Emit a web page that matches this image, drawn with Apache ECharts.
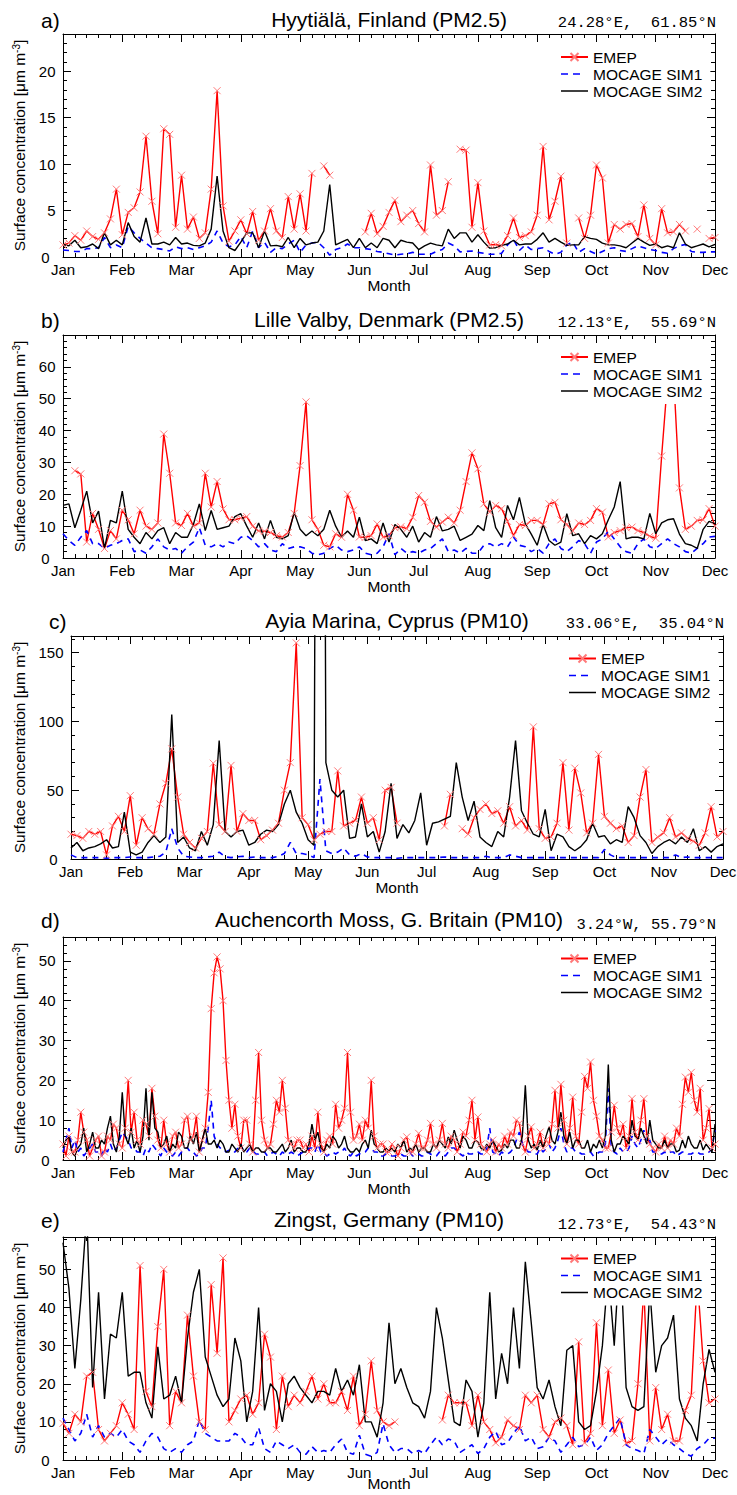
<!DOCTYPE html>
<html>
<head>
<meta charset="utf-8">
<script src="https://cdn.jsdelivr.net/npm/echarts@6/dist/echarts.min.js"></script>
<style>
html,body{margin:0;padding:0;background:#fff;}
#chart{width:737px;height:1495px;}
</style>
</head>
<body>
<div id="chart"></div>
<script>
// ---------------- DATA ----------------
const MONTHS = ['Jan','Feb','Mar','Apr','May','Jun','Jul','Aug','Sep','Oct','Nov','Dec'];
const STEPS = [0.1, 0.1, 0.1, 0.05, 0.1]; // month units between samples, per panel

const TAGS = ['a)','b)','c)','d)','e)'];
const TITLES = ['Hyytiälä, Finland (PM2.5)','Lille Valby, Denmark (PM2.5)','Ayia Marina, Cyprus (PM10)','Auchencorth Moss, G. Britain (PM10)','Zingst, Germany (PM10)'];
const COORDS = ['24.28°E,  61.85°N','12.13°E,  55.69°N','33.06°E,  35.04°N','3.24°W, 55.79°N','12.73°E,  54.43°N'];
const Y_MAX = [24, 70, 162, 56, 58.5];
const Y_INTERVAL = [5, 10, 50, 10, 10];
const SERIES_NAMES = ['EMEP','MOCAGE SIM1','MOCAGE SIM2'];

const A_EMEP = [1.3,1.5,2.3,1.8,2.8,2.2,1.9,2.6,4.1,7.3,
 2.4,4.8,5.3,7.0,13.0,6.0,2.5,13.8,13.2,3.2,
 8.8,3.0,4.3,2.0,2.6,7.3,17.9,5.5,1.7,2.8,
 4.0,2.5,4.9,1.8,2.8,5.2,2.8,2.1,6.5,3.0,
 6.8,2.8,9.0,null,9.8,8.8,null,null,null,null,
 null,2.7,4.7,2.5,3.3,4.8,6.1,3.8,4.5,5.0,
 3.6,2.7,9.9,4.5,5.0,8.1,null,11.6,11.5,3.2,
 8.0,2.8,1.3,1.35,1.2,2.3,4.2,2.1,2.3,2.7,
 4.5,11.9,4.0,6.0,8.7,1.5,null,4.2,2.0,4.5,
 9.9,8.5,1.5,3.5,3.0,3.5,3.6,2.2,5.6,2.0,
 1.3,5.2,2.6,2.7,3.5,2.8,null,3.0,null,2.0,
 2.1];
const A_SIM1 = [0.75,0.7,0.6,0.6,0.9,0.9,1.0,2.1,1.0,1.3,
 1.0,3.3,2.6,2.0,1.5,1.0,0.9,0.8,0.65,1.1,
 0.9,1.0,0.8,1.0,1.2,1.6,2.8,1.5,1.1,1.3,
 2.2,1.0,2.8,1.0,1.6,0.5,1.0,0.9,1.4,1.8,
 0.5,1.3,1.5,1.6,1.0,0.2,0.8,1.0,1.4,1.0,
 1.0,0.9,0.8,0.6,0.5,0.35,0.2,0.3,0.35,0.5,
 0.3,0.3,0.3,0.6,0.8,1.5,1.2,0.55,0.6,0.65,
 0.5,0.4,0.3,0.3,0.4,1.3,1.9,0.7,1.3,0.8,
 0.9,1.0,0.6,0.3,0.5,1.3,1.6,0.5,0.9,0.6,
 0.3,0.6,0.9,1.0,0.7,0.6,0.9,1.2,1.0,0.8,
 0.7,0.5,0.4,0.9,1.2,1.35,0.6,0.5,0.5,0.55,
 0.55];
const A_SIM2 = [1.35,1.2,1.8,1.0,1.1,1.4,0.9,2.6,1.3,1.8,
 1.3,3.7,2.2,1.6,4.2,1.4,1.4,1.6,1.3,2.1,
 1.4,1.5,1.25,1.2,1.5,3.0,8.7,2.8,1.0,0.7,
 1.6,2.6,2.6,1.0,2.8,1.2,1.25,1.1,2.1,1.0,
 2.0,1.3,1.5,1.6,2.8,7.8,1.3,1.6,1.9,1.0,
 2.0,1.0,1.5,1.0,2.0,1.8,1.0,1.8,1.6,1.5,
 0.8,1.2,1.5,1.3,1.2,3.0,2.0,2.6,2.6,1.6,
 2.4,1.6,0.95,1.0,1.25,1.4,1.8,1.3,1.4,1.4,
 1.9,2.6,1.6,2.0,1.6,1.25,1.3,1.3,2.2,2.0,
 1.9,1.5,1.3,1.3,1.2,1.0,1.5,2.0,1.6,1.25,
 1.4,1.0,1.2,1.0,2.6,1.4,1.0,1.2,1.4,1.1,
 1.35];

const B_EMEP = [null,null,27.4,26.4,5,14,9,3,8.6,6,
 15,12,7.6,15,10,9,11,38.9,26.6,11,
 10.2,14,10,11,26.6,16,24,15.4,12,12,
 12.5,13,10,8.5,8.4,8,7,6.6,8,14,
 29,49,12,9,4,3.5,7.6,6.5,20,15,
 6.6,6.5,7,10.7,6.5,7,9.5,9.8,9.2,12.8,
 19.6,17.5,11.5,9.7,11.3,12.8,11,15,24,33,
 28,17,14.4,16.5,15.5,11.5,7,10.5,10.2,11.8,
 11.8,10.5,17,17.5,12,10.5,8.5,11,10.5,11.8,
 15.5,14.4,6.6,8,8.6,9.5,9.7,8.6,8,6.8,
 6.2,32,56,58,22,9,10,11.8,12,15.5,
 10];
const B_SIM1 = [7.6,5.5,4.0,6.5,8.6,4.5,4.5,3,4,4.5,
 5.5,6,2,2.5,1.5,3.5,6,3.5,2.5,3,
 1.5,3.5,5,9.5,4,3.5,4.5,3.5,5,4.5,
 6.5,7,5.5,3.5,4.5,2.5,2,4.5,3,3.5,
 3.5,3,1.5,1,1.5,3,4,2.5,2,2.5,
 3.5,1.5,1,1.5,3.5,7.6,1,3,1.5,2,
 1.5,2.5,3,4.5,6,2,2.5,1.5,3,1.5,
 1.5,4,4.5,3.5,4.5,3.5,6.6,4,3.5,2,
 3,1.5,4.5,6,3,2,3.5,5.5,4.5,1.5,
 5,6,8.4,6,3.5,2,1.5,4.5,6,3.5,
 3,4.5,6,4.5,3.5,2,1.5,3,4.5,6.6,
 6.8];
const B_SIM2 = [16.5,17,9.5,15,21,11,14.7,3,11.8,11,
 21,9,6.5,4.5,8,6,8.6,9.5,4.5,8,
 6.5,6.5,10.5,17,8.6,14.9,9,9.5,10,13,
 13.9,10,6.5,11,6,11.8,6.5,6,7,14.4,
 9,7,8.5,7,9,15,10,6.5,8.5,6.5,
 12.8,5.5,6,4.5,11,5,10.5,9,6.5,10,
 5,8,6.5,13,8.5,9,10,5.5,6.5,7.5,
 10.2,8.6,18,9.5,6.5,16.5,12,19,10.7,7.5,
 4,10.5,5.5,4,5,13.9,7,7.6,4.5,7,
 6,7.6,12,16,24,6,6.5,6.5,6,14,
 7.6,11,12,12.3,7.5,4.5,4,3,9,11.5,
 10.7];

const C_EMEP = [18,17,15,20,18,20,3,24,31,20,
 46,10,30,22,18,40,55,80,45,18,
 12,8,15,20,69.6,25,20,68,20,33,
 28,28,14,17,21,26,50,70,157,30,
 25,14,18,20,20,64,24,26,28,45,
 26,30,14,50,52,26,null,null,null,null,
 null,null,null,24,47,null,22,18,30,36,
 40,33,35,26,38,24,28,21,96,22,
 15,16,26,70,21,66,48,19,26,76,
 31,26,22,24,12,17,45,65,12,16,
 19,30,16,19,15,13,10,19,38,16,
 20];
const C_SIM1 = [3,1,1,1,1,1,0.5,1,1,1,
 1.5,1,1,1,1.5,2,5,22,8,2,
 1.5,1,1,1.5,2,5,1.5,1,1.5,2,
 1,1.5,1,1,1,2,4,12,4,4,
 3,1,58,6,4,5,8,3,2,4,
 1.5,1,1,1,1,0.5,1,1,1,1,
 1,1,1,1.5,1,1,1,1,1,1,
 2,1,1,1,3,2,1,1,1,1,
 1,1,1,1,1,1,1,1,1,1,
 7,3,1,1,1,1,1,1,1,1,
 1,1,3,1,1.5,1,1,1,1,1,
 1];
const C_SIM2 = [8,12,6,8,9,11,14,8,9,34,
 5,3,5,12,17,12,16,105,12,16,
 8,6,20,10,25,86,20,16,20,21,
 10,12,18,21,20,25,40,50,34,26,
 14,10,1200,70,50,45,50,15,16,40,
 16,20,5,20,55,15,25,19,28,48,
 10,26,27,29,31,70,45,28,42,16,
 12,9,20,16,45,86,35,26,18,16,
 36,6,18,16,9,6,9,14,26,16,
 17,11,14,12,38,30,17,12,4,9,
 12,14,11,16,12,22,6,9,5,9,
 11];

// panel d: sampled every 0.05 month
const D_EMEP = [4,1,6,2,2,5,12,7,5,1,
 3,5,6,1,2,6,5,9,8,4,
 3,8,20,7,12,5,4,10,9,6,
 18,11,5,3,10,4,2,6,7,3,
 4,10,11,5,6,11,2,5,8,17,
 38,47,51,48,40,25,15,8,14,6,
 3,10,10,4,2,15,27,10,5,3,
 4,9,15,12,20,13,5,4,3,5,
 5,3,4,2,6,3,12,4,2,5,
 6,4,14,8,10,13,27,12,5,6,
 9,5,10,8,20,6,3,4,4,2,
 2,4,3,1,3,5,5.8,2,2,4,
 6.7,3,3,5,9.2,4,3,5,9.2,4,
 3,6,5,2,4,7,6,10,15,5,
 10.8,4,3,2,4,5,2,4,3,6,
 4,7,6,10,9.2,4,2,6,8.3,3,
 4,7,3,5,4,9,17.5,8,19,10,
 4,8,15.8,6,4,12,21,18,24.6,15,
 11,6,5,3,3,7,13.75,8,6,9,
 3,6,15.4,7,5,10,15.4,6,4,3,
 2,4,3,6,3,5,4,8,6,14,
 20.8,17,22,15,12,18,5,8,12.9,3,
 4];
const D_SIM1 = [2,5,8,3,5,2,3,1,2,3,
 4,2,2,1,3,2,4,2,3,5,
 7,6,5,3,3,2,2,1,3,2,
 4,3,2,1,3,2,1.5,1,2,1,
 2,3,3,2,2,1,1.5,3,3,8,
 15,6,4,3,3,2,2.5,2,2,3,
 4,2,2,3,2.5,1.5,1.5,2,2,1,
 1.5,2,1.5,1,2,1.5,1.5,2,1.5,1,
 1.5,2,2,3,3,2,4,2,2,1,
 1.5,2,1.5,2,2,3,1.5,1,2,1,
 1.5,2,2,3,3,2,2,1,1,1.5,
 1.5,1,1,1.5,1.5,1,1,2,1,1.5,
 1.5,1,1,2,1.5,1,1,2,1.5,1,
 2,3,3,2,1.5,1,2,1.5,1.5,2,
 2,1.5,1.5,3,8,2,1.5,1,2,1.5,
 1.5,2,3,5,7,4,3,2,2,1.5,
 1.5,3,2,3,4,2,3,5,8,4,
 2,3,3,2,2,1.5,1.5,2,2,1,
 1.5,2,2,4,18,3,2,1.5,3,2,
 2,3,6,4,3,5,7.5,4,5,2,
 2,1.5,1.5,2,1.5,2,2,1,1.5,2,
 2,1.5,1.5,2,2,1.5,1.5,2,2,3,
 7.5];
const D_SIM2 = [3,5,6,2,1,3,4,8,2,4,
 7,3,3,5,4,8,11,4,2,6,
 17,6,4,8,3,5,2,6,18,5,
 17,8,7,3,4,6,2,4,3,7,
 6,3,3,6,4,7,2,5,8,4,
 4,5,3,5,4,2,2,4,3,2,
 4,2,3,4,2,3,3,2,2,3,
 3,2,2,3,4,2,3,5,2,3,
 3,2,2,4,9,5,7,3,2,4,
 3,6,5,3,4,6,3,2,2,3,
 2,4,5,3,7.5,4,3,2,2,3,
 2,3,2,4,3,5,2,3,2.5,4,
 2,3,3,2,2,4,3,5,4,3,
 5.8,4,7.5,5,3,6,5,3,3,5,
 4.5,3,2.5,4,3,5,3.5,2,2.5,4,
 3,5,5,3,3,6,18.75,5,3,4,
 2.5,5,3,6,8.3,5,4,7,12,6,
 4,7,3,5,5,3,3,5,2,4,
 3,5,3,6,24,5,2,4,4,6,
 5,4,10,6,5,8,6,4,10,5,
 4,3,3,5,3,4,4,2,2.5,5,
 3,6,4,3,3,5,2.5,4,3,2,
 9];

const E_EMEP = [9.6,7,12,10,22,23,8,5,7,9,
 15,12,8,51,18,14,35,50,9,18,
 15,38,22,10,8,46,28,53,10,13,
 16,17,12,15,33,27,8,22,14,17,
 15,18,22,16,20,15,15,18,13,22,
 9,12,26,13,10,9,10,null,null,null,
 null,null,null,null,10.5,17,15,15,15,9,
 17,10,8,4.5,6,10.5,9,8,17,15,
 17,8,6,10,11,9,4,31,4.5,7,
 36,9,23.6,7,10.5,4.4,5,20,45,5,
 19,8,12,5,5,13,17,48,26,15,
 16];
const E_SIM1 = [11,8,5,7,12,6,9,6,7,6,
 8,5,4,2,5,7,6,3,2,3,
 2,4,5,10.5,7,6,5,5,5,7,
 6,4,4,8.5,3,2,5,4,3,4,
 2,1.5,3.5,2,2.5,2,4,5.5,2,1.5,
 6.5,1.5,1,2,9.5,4,2,3,3,1.7,
 2.5,1.7,4,6,4,5.5,5,2,3,4,
 1.7,3,6,7.5,4,4.5,7,9,5,6,
 3,3.5,6,5,2,4,6,3.5,4,6,
 2.5,4,7,9,11,4,3,2.5,1.7,8,
 6,4,5.5,4,3,1.7,1,3,4,5.7,
 5.7];
const E_SIM2 = [57,45,24,42,65,19,44,16,33,32,
 44,22,23,23,15,11,29.7,16,17,22,
 15,32,44,50,27,22,17,14,16,32,
 26,10,18,40,13,20,18,10,20,22,
 19,17,15,18,18,17,24,18,21,17,
 25,10,10,6,15,36,20,24,19,15,
 14,11,18,40,32,21,10,9,21,18,
 6,15,44,16,28,20,40,24,52,36,
 19,16,21,14,9,28.8,30,10,8,9,
 18,30,50,30,56,19,14,13,14,45,
 23,30,32,38,16,11,9,5,20,29,
 23];

const PANEL_DATA = [
  [A_EMEP, A_SIM1, A_SIM2],
  [B_EMEP, B_SIM1, B_SIM2],
  [C_EMEP, C_SIM1, C_SIM2],
  [D_EMEP, D_SIM1, D_SIM2],
  [E_EMEP, E_SIM1, E_SIM2]
];

// ---------------- LAYOUT ----------------
const GRID_LEFT = [63, 63, 71, 63, 63];
const GRID_TOP = [34, 335, 636, 937, 1237];
const GRID_W = 652, GRID_H = 223;
const TAG_X = [41, 41, 49, 41, 41];
const TITLE_Y = [19, 319, 620, 919, 1219];
const COORD_Y = [23, 323, 624, 925, 1225];
const LEG_LEFT = [555, 555, 563, 555, 555];
const LEG_TOP = [44, 344, 645.5, 945.5, 1245.5];
const MONTH_GAP = [21, 21, 21, 21, 16];

const SANS = '"Liberation Sans", Arial, Helvetica, sans-serif';
const MONO = '"Liberation Mono", "Courier New", monospace';
const CROSS = 'path://M0,0L10,10M10,0L0,10';
const ICON_DASH = 'path://M0,0h7v1.6h-7z M12,0h7v1.6h-7z M27,0.8L27,0.8';
const ICON_SOLID = 'path://M0,0h27v1.5h-27z';

function toXY(arr, step) {
  return arr.map((v, i) => [Math.round(i * step * 1000) / 1000, v == null ? '-' : v]);
}

function baseAxis(extra) {
  return Object.assign({
    type: 'value',
    axisLine: { show: true, onZero: false, lineStyle: { color: '#000', width: 1 } },
    axisTick: { show: true, inside: true, length: 8, lineStyle: { color: '#000', width: 1 } },
    minorTick: { show: true, splitNumber: 5, length: 4, lineStyle: { color: '#000', width: 1 } },
    splitLine: { show: false },
    minorSplitLine: { show: false },
    axisPointer: { show: false }
  }, extra);
}

const grids = [], xAxes = [], yAxes = [], series = [], legends = [], graphics = [];

PANEL_DATA.forEach((panel, i) => {
  grids.push({ left: GRID_LEFT[i], top: GRID_TOP[i], width: GRID_W, height: GRID_H, containLabel: false, outerBoundsMode: 'none' });

  const xCommon = { gridIndex: i, min: 0, max: 11, interval: 1 };
  xAxes.push(baseAxis(Object.assign({}, xCommon, {
    position: 'bottom',
    axisLabel: { show: true, formatter: v => MONTHS[Math.round(v)] || '', fontSize: 15, fontFamily: SANS, color: '#000', margin: 5, lineHeight: 15, showMinLabel: true, showMaxLabel: true },
    name: 'Month', nameLocation: 'middle', nameGap: MONTH_GAP[i], nameMoveOverlap: false,
    nameTextStyle: { fontSize: 15.5, fontFamily: SANS, color: '#000', lineHeight: 14 }
  })));
  xAxes.push(baseAxis(Object.assign({}, xCommon, {
    position: 'top', axisLabel: { show: false }
  })));

  const itv = Y_INTERVAL[i];
  const yCommon = { gridIndex: i, min: 0, max: Y_MAX[i], interval: itv };
  yAxes.push(baseAxis(Object.assign({}, yCommon, {
    position: 'left',
    axisLabel: {
      show: true, fontSize: 15, fontFamily: SANS, color: '#000', margin: 7.5, lineHeight: 10, showMaxLabel: false,
      formatter: v => {
        if (Math.abs(v / itv - Math.round(v / itv)) > 1e-6) return '';
        return v === 0 ? '{z|0}' : String(v);
      },
      rich: { z: { fontSize: 15, fontFamily: SANS, color: '#000', padding: [0, 6, 0, 0], lineHeight: 10 } }
    },
    name: 'Surface concentration [{mu|μ}m m{sup|-3}]',
    nameLocation: 'middle', nameRotate: 90, nameGap: GRID_LEFT[i] - 30,
    nameTextStyle: {
      fontSize: 15.5, fontFamily: SANS, color: '#000',
      rich: {
        mu: { fontSize: 15.5, fontFamily: SANS, color: '#000' },
        sup: { fontSize: 10, fontFamily: SANS, color: '#000', verticalAlign: 'top', lineHeight: 16 }
      }
    }
  })));
  yAxes.push(baseAxis(Object.assign({}, yCommon, {
    position: 'right', axisLabel: { show: false }
  })));

  const ax = 2 * i;
  const step = STEPS[i];
  series.push({
    type: 'line', name: SERIES_NAMES[0], xAxisIndex: ax, yAxisIndex: ax,
    data: toXY(panel[0], step), symbol: CROSS, symbolSize: 7, showSymbol: true, showAllSymbol: true,
    connectNulls: false, clip: true, animation: false, silent: true,
    lineStyle: { color: '#ff0000', width: 1.4 },
    itemStyle: { color: '#ff0000', borderColor: '#ff7a7a', borderWidth: 1 },
    z: 1
  });
  series.push({
    type: 'line', name: SERIES_NAMES[1], xAxisIndex: ax, yAxisIndex: ax,
    data: toXY(panel[1], step), symbol: 'none', showSymbol: false, clip: true, animation: false, silent: true,
    lineStyle: { color: '#0000ff', width: 1.6, type: [6, 5] },
    itemStyle: { color: '#0000ff' },
    z: 1
  });
  series.push({
    type: 'line', name: SERIES_NAMES[2], xAxisIndex: ax, yAxisIndex: ax,
    data: toXY(panel[2], step), symbol: 'none', showSymbol: false, clip: true, animation: false, silent: true,
    lineStyle: { color: '#000000', width: 1.4 },
    itemStyle: { color: '#000000' },
    z: 1
  });

  legends.push({
    orient: 'vertical', left: LEG_LEFT[i], top: LEG_TOP[i],
    itemWidth: 27, itemHeight: 10, itemGap: 1,
    padding: [5, 8, 5, 5],
    backgroundColor: '#ffffff',
    selectedMode: false,
    z: 10,
    textStyle: { fontSize: 15.5, fontFamily: SANS, color: '#000', lineHeight: 15.5 },
    data: [
      { name: SERIES_NAMES[0] },
      { name: SERIES_NAMES[1], icon: ICON_DASH, itemStyle: { color: '#0000ff' } },
      { name: SERIES_NAMES[2], icon: ICON_SOLID, itemStyle: { color: '#000000' } }
    ]
  });

  graphics.push({
    type: 'text', x: TAG_X[i], y: TITLE_Y[i] + 1,
    style: { text: TAGS[i], fontSize: 21, fontFamily: SANS, fill: '#000', align: 'left', verticalAlign: 'middle' }
  });
  graphics.push({
    type: 'text', x: GRID_LEFT[i] + GRID_W / 2, y: TITLE_Y[i],
    style: { text: TITLES[i], fontSize: 21, fontFamily: SANS, fill: '#000', align: 'center', verticalAlign: 'middle' }
  });
  graphics.push({
    type: 'text', x: GRID_LEFT[i] + GRID_W + 1, y: COORD_Y[i],
    style: { text: COORDS[i], fontSize: 15.5, fontFamily: MONO, fill: '#000', align: 'right', verticalAlign: 'middle' }
  });
});

const chart = echarts.init(document.getElementById('chart'), null, { renderer: 'svg', width: 737, height: 1495 });
chart.setOption({
  backgroundColor: '#ffffff',
  animation: false,
  grid: grids,
  xAxis: xAxes,
  yAxis: yAxes,
  legend: legends,
  series: series,
  graphic: graphics
});
</script>
</body>
</html>
